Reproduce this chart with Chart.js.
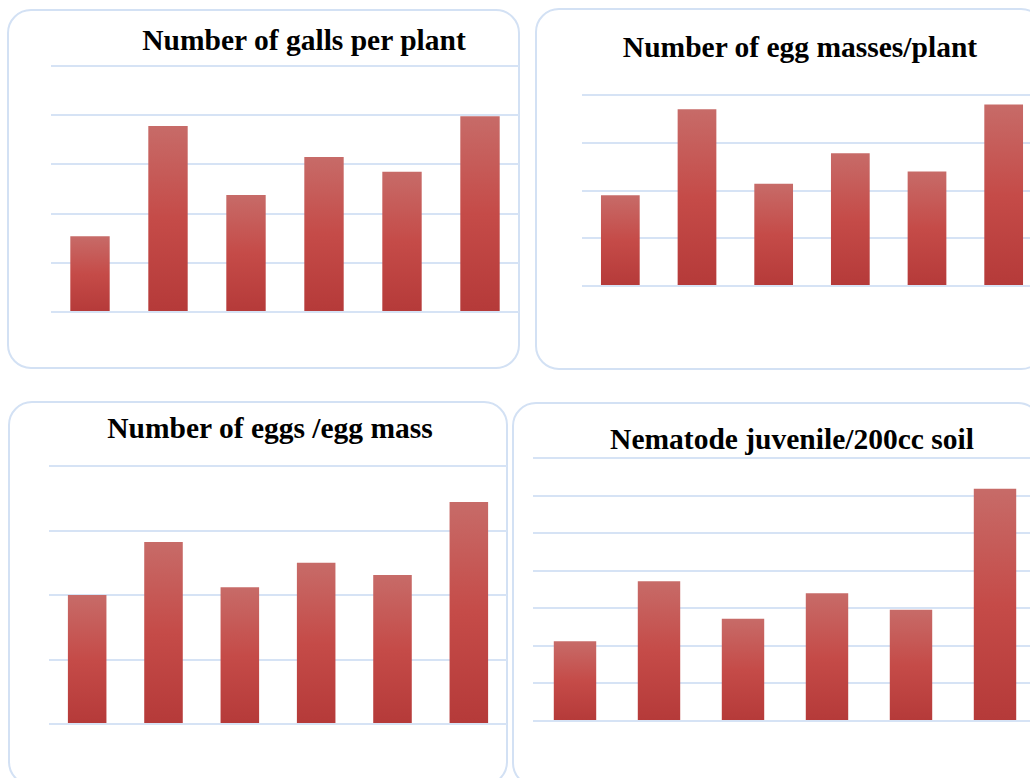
<!DOCTYPE html>
<html>
<head>
<meta charset="utf-8">
<script src="https://cdn.jsdelivr.net/npm/chart.js@4/dist/chart.umd.min.js"></script>
<style>
  html, body { margin: 0; padding: 0; background: #ffffff; }
  body { width: 1030px; height: 778px; overflow: hidden; position: relative; }
  .panel {
    position: absolute; box-sizing: border-box;
    border: 2px solid #d3e1f4; border-radius: 24px; background: #ffffff;
  }
  .title {
    position: absolute; white-space: nowrap; line-height: 1;
    font-family: "Liberation Serif", "Times New Roman", serif;
    font-weight: bold; font-size: 29.5px; color: #000000;
    transform: translateX(-50%);
  }
  .plot { position: absolute; }
</style>
</head>
<body>

<div class="panel" style="left:7px; top:9px; width:513px; height:360px;"></div>
<div class="panel" style="left:535px; top:8px; width:510px; height:362px;"></div>
<div class="panel" style="left:8px; top:401px; width:500px; height:385px;"></div>
<div class="panel" style="left:512px; top:402px; width:530px; height:385px;"></div>

<div class="title" style="left:304px; top:26px;">Number of galls per plant</div>
<div class="title" style="left:800px; top:33px;">Number of egg masses/plant</div>
<div class="title" style="left:270px; top:414px;">Number of eggs /egg mass</div>
<div class="title" style="left:792px; top:425px;">Nematode juvenile/200cc soil</div>

<div class="plot" id="w1" style="left:51px; top:62px; width:468px; height:254px;"><canvas id="c1"></canvas></div>
<div class="plot" id="w2" style="left:582px; top:91px; width:460px; height:199px;"><canvas id="c2"></canvas></div>
<div class="plot" id="w3" style="left:49px; top:462px; width:458px; height:266px;"><canvas id="c3"></canvas></div>
<div class="plot" id="w4" style="left:533px; top:454px; width:504px; height:271px;"><canvas id="c4"></canvas></div>

<script>
// Six treatments, one bar each, in every panel
const treatments = ['T1', 'T2', 'T3', 'T4', 'T5', 'T6'];

// Number of galls per plant
const gallsPerPlant = [15.4, 37.8, 23.8, 31.5, 28.5, 39.8];
// Number of egg masses per plant
const eggMassesPerPlant = [9.5, 18.5, 10.7, 13.9, 12.0, 19.0];
// Number of eggs per egg mass
const eggsPerEggMass = [200, 282, 212, 250, 231, 344];
// Nematode juveniles per 200 cc soil
const juvenilesPerSoil = [106, 186, 136, 170, 148, 309];

// Value axis ranges: [max, step]
const gallsAxis = [50, 10];
const eggMassesAxis = [20, 5];
const eggsAxis = [400, 100];
const juvenilesAxis = [350, 50];

// Vertical red gradient for each bar, running from its top down to the baseline
function barGradient(context) {
  const chart = context.chart;
  const yScale = chart.scales && chart.scales.y;
  if (!chart.chartArea || !yScale) return '#c44b48';
  const v = context.raw;
  const yTop = yScale.getPixelForValue(v);
  const yBottom = yScale.getPixelForValue(0);
  if (!isFinite(yTop) || !isFinite(yBottom) || yTop === yBottom) return '#c44b48';
  const g = chart.ctx.createLinearGradient(0, yTop, 0, yBottom);
  g.addColorStop(0, '#c76b68');
  g.addColorStop(0.5, '#c54b48');
  g.addColorStop(1, '#b53a39');
  return g;
}

function makeChart(canvasId, values, axis) {
  new Chart(document.getElementById(canvasId), {
    type: 'bar',
    data: {
      labels: treatments,
      datasets: [{
        data: values,
        backgroundColor: barGradient,
        borderWidth: 0,
        barPercentage: 0.505,
        categoryPercentage: 1.0
      }]
    },
    options: {
      responsive: true,
      maintainAspectRatio: false,
      animation: false,
      layout: { padding: { top: 4, bottom: 4, left: 0, right: 0 } },
      plugins: {
        legend: { display: false },
        title: { display: false },
        tooltip: { enabled: false }
      },
      scales: {
        x: { display: false },
        y: {
          display: true,
          min: 0,
          max: axis[0],
          ticks: { display: false, stepSize: axis[1] },
          border: { display: false },
          grid: { color: '#d6e3f5', lineWidth: 2, drawTicks: false }
        }
      }
    }
  });
}

makeChart('c1', gallsPerPlant, gallsAxis);
makeChart('c2', eggMassesPerPlant, eggMassesAxis);
makeChart('c3', eggsPerEggMass, eggsAxis);
makeChart('c4', juvenilesPerSoil, juvenilesAxis);
</script>
</body>
</html>
